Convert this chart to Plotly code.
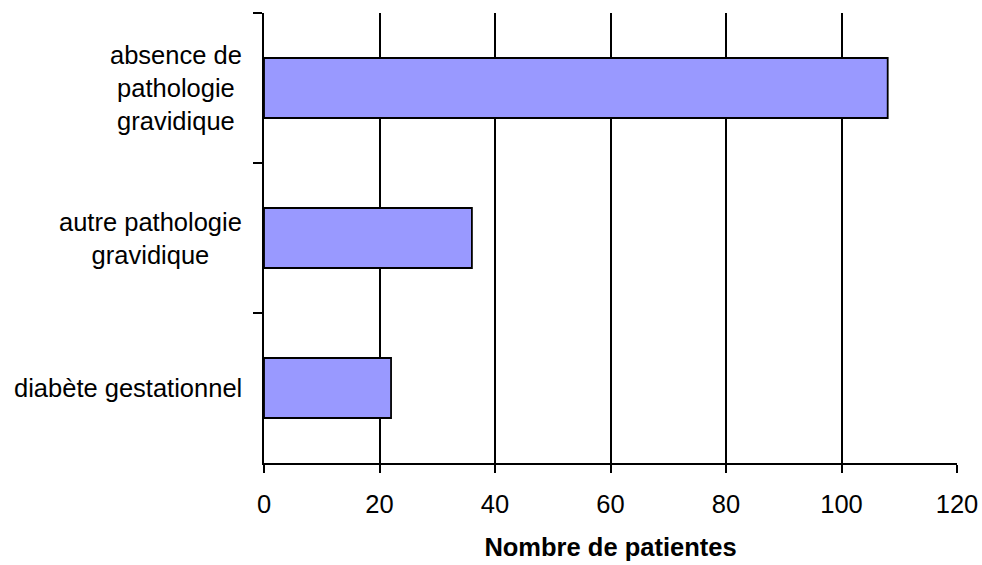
import plotly.graph_objects as go

# Pathologie gravidique : nombre de patientes par catégorie (de haut en bas)
categories = ["absence de<br>pathologie<br>gravidique",
              "autre pathologie<br>gravidique",
              "diabète gestationnel"]
counts = [108, 36, 22]
x_ticks = [0, 20, 40, 60, 80, 100, 120]

FONT = "Liberation Sans, Arial, sans-serif"
SIZE = 25.5

fig = go.Figure(
    go.Bar(
        x=counts,
        y=categories,
        orientation="h",
        width=0.4,
        marker=dict(color="#9999FF", line=dict(color="black", width=1.8)),
        hoverinfo="x+y",
    )
)

# Category labels, centred line by line to the left of the axis
for cat in categories:
    fig.add_annotation(
        x=0, xref="paper", y=cat, yref="y",
        text=cat, showarrow=False,
        xanchor="right", yanchor="middle", xshift=-20,
        align="center",
        font=dict(family=FONT, size=SIZE, color="black"),
    )

fig.update_layout(
    width=982, height=565,
    margin=dict(l=264, r=25, t=13, b=102),
    paper_bgcolor="white", plot_bgcolor="white",
    showlegend=False,
    font=dict(family=FONT, size=SIZE, color="black"),
    xaxis=dict(
        range=[0, 120],
        tickvals=x_ticks,
        ticktext=[str(v) for v in x_ticks],
        showgrid=True, gridcolor="black", gridwidth=1.6,
        zeroline=False,
        showline=True, linecolor="black", linewidth=1.8,
        ticks="outside", ticklen=8, tickwidth=1.6, tickcolor="black",
        ticklabelstandoff=9,
        tickfont=dict(family=FONT, size=SIZE, color="black"),
        title=dict(text="<b>Nombre de patientes</b>", standoff=22,
                   font=dict(family=FONT, size=SIZE, color="black")),
        automargin=False,
        fixedrange=True,
    ),
    yaxis=dict(
        type="category",
        categoryorder="array", categoryarray=categories,
        range=[2.5, -0.5],
        tickson="boundaries",
        showticklabels=False,
        showgrid=False, zeroline=False,
        showline=True, linecolor="black", linewidth=1.8,
        ticks="outside", ticklen=9, tickwidth=1.6, tickcolor="black",
        automargin=False,
        fixedrange=True,
    ),
)

fig.write_html("out.html")
